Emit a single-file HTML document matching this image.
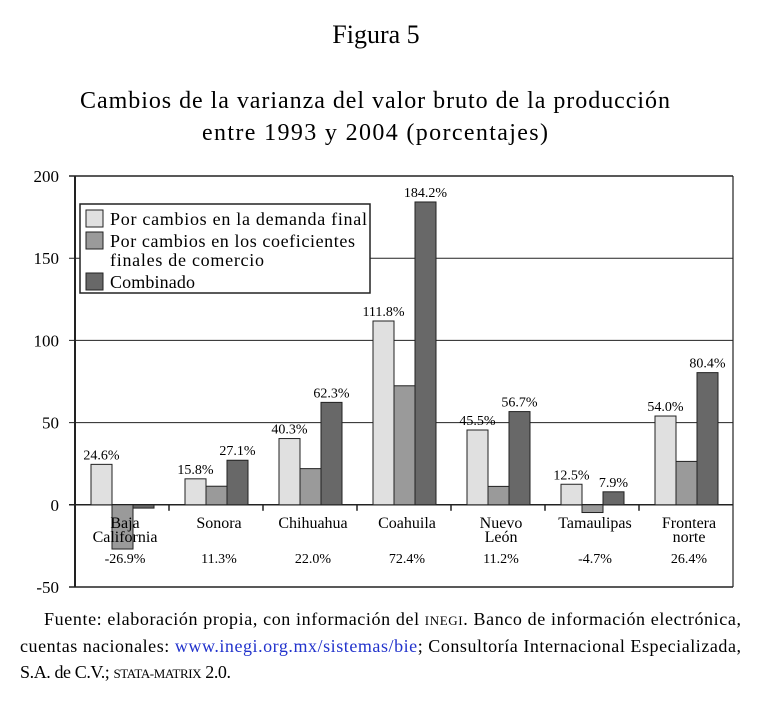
<!DOCTYPE html>
<html><head><meta charset="utf-8"><style>
body{margin:0;background:#fff}
svg{display:block;font-family:"Liberation Serif",serif}
</style></head><body>
<svg width="759" height="706" viewBox="0 0 759 706">
<text x="376" y="43" text-anchor="middle" font-size="26">Figura 5</text>
<text x="375" y="108" text-anchor="middle" font-size="24" textLength="590">Cambios de la varianza del valor bruto de la producción</text>
<text x="375" y="140" text-anchor="middle" font-size="24" textLength="346">entre 1993 y 2004 (porcentajes)</text>
<g id="chart"></g>
<text x="44" y="625" font-size="18" textLength="697">Fuente: elaboración propia, con información del <tspan font-size="13">INEGI</tspan>. Banco de información electrónica,</text>
<text x="20" y="652" font-size="18" textLength="721">cuentas nacionales: <tspan fill="#2233cc">www.inegi.org.mx/sistemas/bie</tspan>; Consultoría Internacional Especializada,</text>
<text x="20" y="678" font-size="18" textLength="211">S.A. de C.V.; <tspan font-size="13">STATA-MATRIX</tspan> 2.0.</text>
</svg>
<script>
const categories=[["Baja","California"],["Sonora"],["Chihuahua"],["Coahuila"],["Nuevo","León"],["Tamaulipas"],["Frontera","norte"]];
const demanda=[24.6,15.8,40.3,111.8,45.5,12.5,54.0];
const coef=[-26.9,11.3,22.0,72.4,11.2,-4.7,26.4];
const combinado=[-2.0,27.1,62.3,184.2,56.7,7.9,80.4];
const yTicks=[200,150,100,50,0,-50];
const seriesNames=["Por cambios en la demanda final","Por cambios en los coeficientes","Combinado"];
const NS="http://www.w3.org/2000/svg";
const g=document.getElementById('chart');
const L=75,R=733,T=176,B=587,ymin=-50,ymax=200;
const y=v=>T+(ymax-v)/(ymax-ymin)*(B-T);
const cw=(R-L)/categories.length;
const x=i=>L+i*cw;
function mk(t,a,p){const e=document.createElementNS(NS,t);for(const k in a)e.setAttribute(k,a[k]);(p||g).appendChild(e);return e;}
yTicks.forEach(v=>{
 const l=mk('line',{x1:L-6,x2:R,y1:y(v),y2:y(v),stroke:'#222','stroke-width':v===0||v===200||v===-50?1.5:1});
 
 
 const t=mk('text',{x:59,y:y(v)+6,'text-anchor':'end','font-size':17});
 t.textContent=v;
 
 
});
const ax=mk('line',{x1:L,x2:L,y1:T,y2:B,stroke:'#222','stroke-width':2});


const rb=mk('line',{x1:R,x2:R,y1:T,y2:B,stroke:'#222','stroke-width':1.2});


for(let i=1;i<categories.length;i++){
 const tk=mk('line',{x1:x(i),x2:x(i),y1:y(0),y2:y(0)+6,stroke:'#222','stroke-width':1.5});
 
 
}
const cols=['#e0e0e0','#9a9a9a','#686868'];
const series=[demanda,coef,combinado];
const bw=21,off=16;
categories.forEach((c,i)=>{
 series.forEach((s,j)=>{
  const v=s[i],bx=x(i)+off+j*bw;
  const r=mk('rect',{x:bx,y:Math.min(y(v),y(0)),width:bw,height:Math.abs(y(v)-y(0)),fill:cols[j],stroke:'#222','stroke-width':1});
  
  
  if(j!==1 && !(j===2&&v<0)){
   const t=mk('text',{x:bx+bw/2,y:y(v)-5,'text-anchor':'middle','font-size':14});
   t.textContent=v.toFixed(1)+'%';
   
   
  }
 });
 const cx=x(i)+cw/2+3;
 c.forEach((line,k)=>{
  const t=mk('text',{x:cx,y:528+k*14,'text-anchor':'middle','font-size':16});
  t.textContent=line;
  
  
 });
 const t2=mk('text',{x:cx,y:563,'text-anchor':'middle','font-size':14});
 t2.textContent=coef[i].toFixed(1)+'%';
 
 
});
const lg=mk('g',{});


mk('rect',{x:80,y:204,width:290,height:89,fill:'#fff',stroke:'#222','stroke-width':1.5},lg);
const ly=[210,232,273];
const lw=[257,245,85];
seriesNames.forEach((n,j)=>{
 const sw=mk('rect',{x:86,y:ly[j],width:17,height:17,fill:cols[j],stroke:'#222','stroke-width':1},lg);
 
 
 const t=mk('text',{x:110,y:ly[j]+15,'font-size':18,textLength:lw[j]},lg);
 t.textContent=n;
 
 
});
const t3=mk('text',{x:110,y:266,'font-size':18,textLength:154},lg);
t3.textContent='finales de comercio';


</script>
</body></html>
